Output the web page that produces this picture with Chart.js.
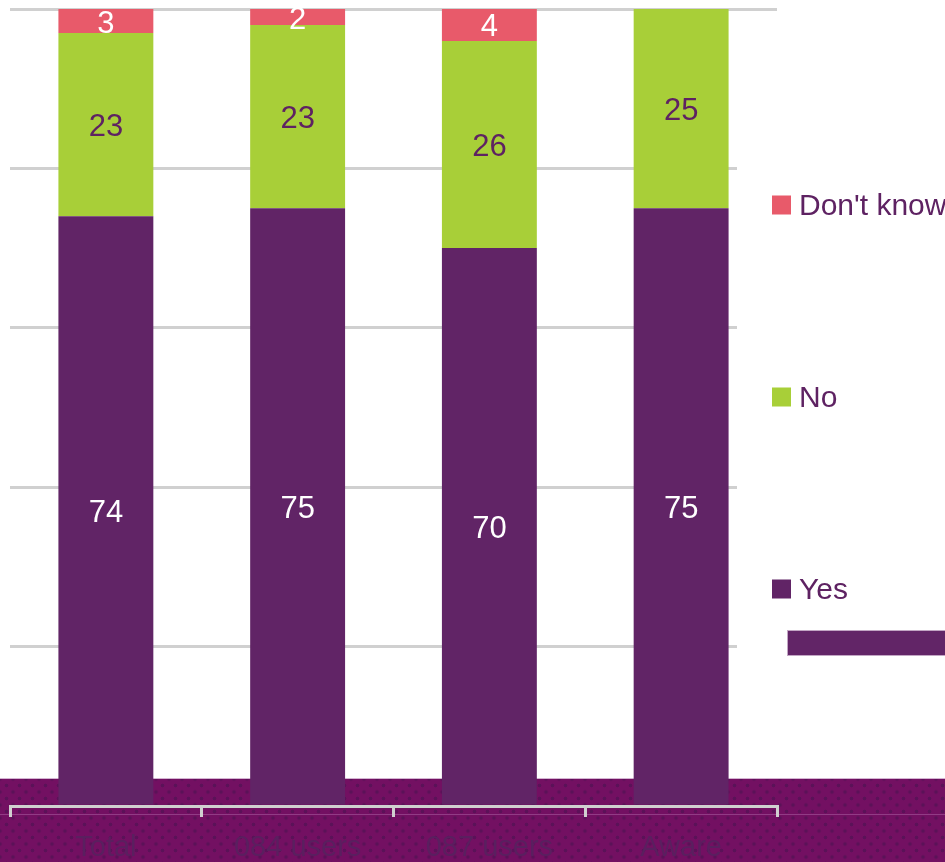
<!DOCTYPE html>
<html>
<head>
<meta charset="utf-8">
<script src="https://cdn.jsdelivr.net/npm/chart.js@4.4.1/dist/chart.umd.min.js"></script>
<style>
  html, body { margin: 0; padding: 0; background: #ffffff; }
  #wrap { position: relative; width: 945px; height: 862px; overflow: hidden; }
  #band {
    position: absolute; left: 0; top: 778px; width: 945px; height: 84px;
    background-color: #731062;
    background-image:
      radial-gradient(circle at 50% 50%, rgba(70,20,80,0.55) 1.4px, rgba(0,0,0,0) 2.2px),
      radial-gradient(circle at 50% 50%, rgba(70,20,80,0.55) 1.4px, rgba(0,0,0,0) 2.2px);
    background-size: 13px 13px, 13px 13px;
    background-position: 0 0, 6.5px 6.5px;
    border-top: 1px solid #d4b4d2;
    box-sizing: border-box;
  }
  #bandLine { position: absolute; left: 0; top: 814px; width: 945px; height: 1px; background: rgba(200,140,200,0.35); }
  #deco {
    position: absolute; left: 787px; top: 630px; width: 170px; height: 26px;
    background: #622567; border: 1px solid #c2a6c4; box-sizing: border-box;
  }
  canvas { position: absolute; left: 0; top: 0; }
</style>
</head>
<body>
<div id="wrap">
  <div id="band"></div>
  <div id="bandLine"></div>
  <canvas id="chart" width="945" height="862"></canvas>
  <div id="deco"></div>
</div>
<script>
// Survey answers by group (percent)
const categories = ['Total', '084 users', '087 users', 'Aware'];
const yesValues = [74, 75, 70, 75];
const noValues = [23, 23, 26, 25];
const dontKnowValues = [3, 2, 4, null];
const seriesNames = ['Yes', 'No', "Don't know"];
const yTicks = [0, 20, 40, 60, 80, 100];

const COLORS = { yes: '#612466', no: '#a8cf38', dk: '#e85a6a' };
const TEXT_PURPLE = '#5e2262';
const FONT = "'Liberation Sans', Arial, sans-serif";

// White panel behind the legend that hides the right end of the gridlines
const legendPanel = {
  id: 'legendPanel',
  beforeDatasetsDraw(chart) {
    const { ctx, chartArea } = chart;
    ctx.save();
    ctx.fillStyle = '#ffffff';
    ctx.fillRect(chartArea.right - 40, chartArea.top + 5, 240, chartArea.bottom - chartArea.top - 33);
    ctx.restore();
  }
};

// Value labels centred in each stacked segment
const segmentLabels = {
  id: 'segmentLabels',
  afterDatasetsDraw(chart) {
    const { ctx } = chart;
    ctx.save();
    ctx.font = '31px ' + FONT;
    ctx.textAlign = 'center';
    ctx.textBaseline = 'middle';
    chart.data.datasets.forEach((ds, di) => {
      const meta = chart.getDatasetMeta(di);
      meta.data.forEach((bar, i) => {
        const v = ds.data[i];
        if (v === null || v === undefined || v === 0) return;
        ctx.fillStyle = ds.labelColor;
        ctx.fillText(String(v), bar.x, (bar.y + bar.base) / 2 + 3);
      });
    });
    ctx.restore();
  }
};

// Legend on the right, top entry is the last series
const sideLegend = {
  id: 'sideLegend',
  afterDraw(chart) {
    const { ctx } = chart;
    const items = chart.data.datasets.slice().reverse();
    const x = 772, box = 19, startY = 205, gap = 192;
    ctx.save();
    ctx.font = '30px ' + FONT;
    ctx.textAlign = 'left';
    ctx.textBaseline = 'middle';
    items.forEach((ds, k) => {
      const cy = startY + k * gap;
      ctx.fillStyle = ds.backgroundColor;
      ctx.fillRect(x, cy - box / 2, box, box);
      ctx.fillStyle = TEXT_PURPLE;
      ctx.fillText(ds.label, x + 27, cy + 2);
    });
    ctx.restore();
  }
};

new Chart(document.getElementById('chart'), {
  type: 'bar',
  data: {
    labels: categories,
    datasets: [
      { label: seriesNames[0], data: yesValues, backgroundColor: COLORS.yes, labelColor: '#ffffff' },
      { label: seriesNames[1], data: noValues, backgroundColor: COLORS.no, labelColor: TEXT_PURPLE },
      { label: seriesNames[2], data: dontKnowValues, backgroundColor: COLORS.dk, labelColor: '#ffffff' }
    ]
  },
  options: {
    responsive: false,
    animation: false,
    layout: { padding: { left: 10, right: 168, top: 9, bottom: 0 } },
    datasets: { bar: { barPercentage: 0.495, categoryPercentage: 1, borderWidth: 0 } },
    plugins: { legend: { display: false }, tooltip: { enabled: false } },
    scales: {
      x: {
        stacked: true,
        grid: {
          offset: true, drawOnChartArea: false, drawTicks: true,
          tickLength: 11, color: '#d0d0d0', lineWidth: 3
        },
        border: { display: true, color: '#d0d0d0', width: 3 },
        ticks: { color: '#5a1f5f', font: { family: FONT, size: 29 }, padding: 14, maxRotation: 0 },
        afterFit(scale) { scale.height = 56; }
      },
      y: {
        stacked: true,
        min: yTicks[0],
        max: yTicks[yTicks.length - 1],
        afterBuildTicks(scale) { scale.ticks = yTicks.map(v => ({ value: v })); },
        grid: { color: '#d0d0d0', lineWidth: 3, drawTicks: false },
        border: { display: false },
        ticks: { display: false },
        afterFit(scale) { scale.width = 0; }
      }
    }
  },
  plugins: [legendPanel, segmentLabels, sideLegend]
});
</script>
</body>
</html>
